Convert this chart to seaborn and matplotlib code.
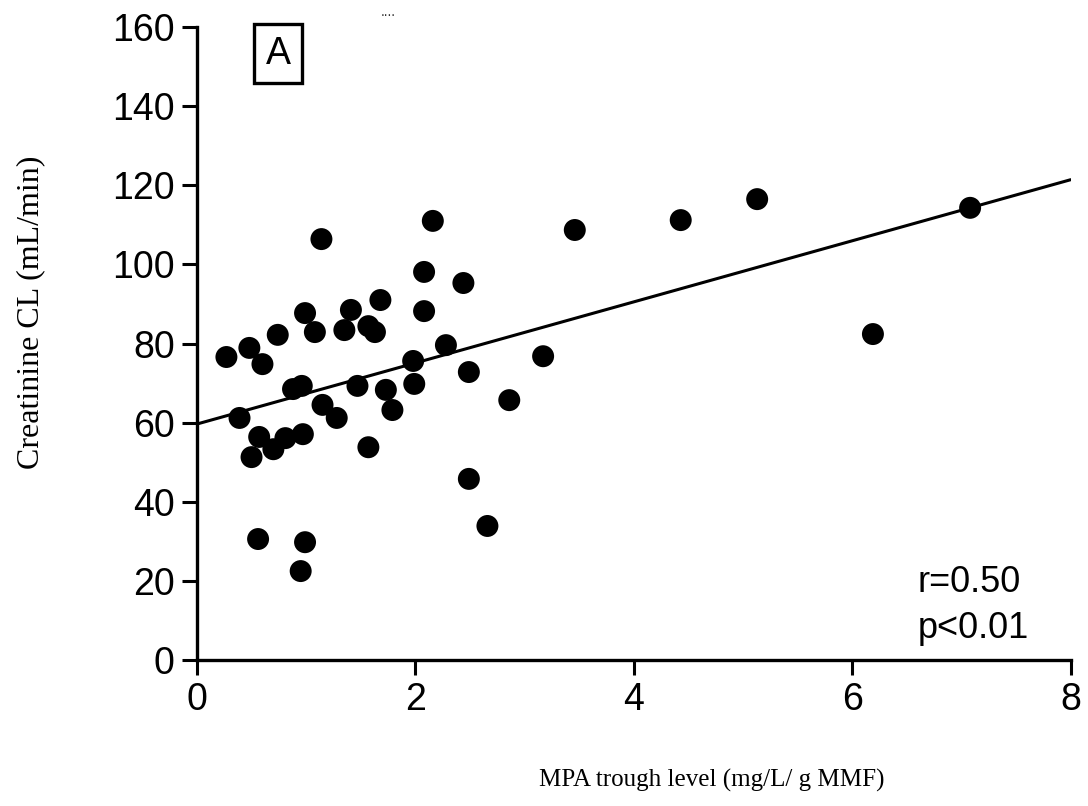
import matplotlib
matplotlib.use("Agg")
import matplotlib.pyplot as plt
import seaborn as sns
import pandas as pd

# MPA trough level (mg/L/ g MMF)
mpa = [0.27, 0.39, 0.48, 0.60, 0.50, 0.57, 0.70, 0.74, 0.56, 0.81,
       0.88, 0.96, 0.99, 0.97, 0.99, 0.95, 1.08, 1.14, 1.15, 1.28,
       1.35, 1.41, 1.47, 1.57, 1.57, 1.63, 1.68, 1.73, 1.79, 1.98,
       1.99, 2.08, 2.08, 2.16, 2.28, 2.44, 2.49, 2.49, 2.66, 2.86,
       3.17, 3.46, 4.43, 5.13, 6.19, 7.08]
# Creatinine CL (mL/min)
crcl = [76.6, 61.2, 78.9, 74.8, 51.3, 56.4, 53.3, 82.2, 30.6, 56.1,
        68.5, 69.3, 87.7, 57.1, 29.8, 22.5, 82.9, 106.4, 64.5, 61.2,
        83.4, 88.5, 69.3, 84.4, 53.8, 82.9, 91.0, 68.3, 63.2, 75.6,
        69.8, 98.1, 88.2, 111.0, 79.6, 95.3, 72.8, 45.8, 33.9, 65.7,
        76.8, 108.7, 111.2, 116.5, 82.4, 114.3]

x_ticks = [0, 2, 4, 6, 8]
y_ticks = [0, 20, 40, 60, 80, 100, 120, 140, 160]

df = pd.DataFrame({"mpa": mpa, "crcl": crcl})

sns.set_style("white")
plt.rcParams["font.family"] = ["Liberation Sans", "DejaVu Sans"]
plt.rcParams["text.color"] = "black"
plt.rcParams["axes.labelcolor"] = "black"
plt.rcParams["xtick.color"] = "black"
plt.rcParams["ytick.color"] = "black"

fig = plt.figure(figsize=(10.88, 8.06), dpi=100)
ax = fig.add_axes([0.181, 0.181, 0.803, 0.7855])
ax.set_xlim(0, 8)
ax.set_ylim(0, 160)

sns.regplot(data=df, x="mpa", y="crcl", ax=ax, ci=None, truncate=False,
            scatter_kws=dict(s=250, color="black", edgecolor="none", alpha=1, zorder=3),
            line_kws=dict(color="black", lw=2.2, zorder=2))

ax.set_xlim(0, 8)
ax.set_ylim(0, 160)
ax.set_xticks(x_ticks)
ax.set_yticks(y_ticks)
ax.set_xticklabels([str(v) for v in x_ticks], fontsize=27)
ax.set_yticklabels([str(v) for v in y_ticks], fontsize=27)
ax.tick_params(axis="both", direction="out", length=11, width=2.2, color="black",
               left=True, bottom=True, pad=5)

for side in ["top", "right"]:
    ax.spines[side].set_visible(False)
for side in ["left", "bottom"]:
    ax.spines[side].set_linewidth(2.4)
    ax.spines[side].set_color("black")

ax.set_xlabel("MPA trough level (mg/L/ g MMF)", fontsize=18,
              family=["Liberation Serif", "DejaVu Serif"])
ax.set_ylabel("Creatinine CL (mL/min)", fontsize=23,
              family=["Liberation Serif", "DejaVu Serif"])
ax.xaxis.set_label_coords(0.589, -0.172)
ax.yaxis.set_label_coords(-0.174, 0.55)

ax.text(0.093, 0.958, "A", transform=ax.transAxes, ha="center", va="center", fontsize=27,
        bbox=dict(boxstyle="square,pad=0.3", facecolor="white", edgecolor="black", lw=2.4))
ax.text(0.825, 0.123, "r=0.50", transform=ax.transAxes, ha="left", va="center", fontsize=26)
ax.text(0.825, 0.05, "p<0.01", transform=ax.transAxes, ha="left", va="center", fontsize=26)
fig.text(0.357, 0.985, "....", ha="center", va="center", fontsize=10, color="#333333")

fig.savefig("out.png", dpi=100, facecolor="white")
